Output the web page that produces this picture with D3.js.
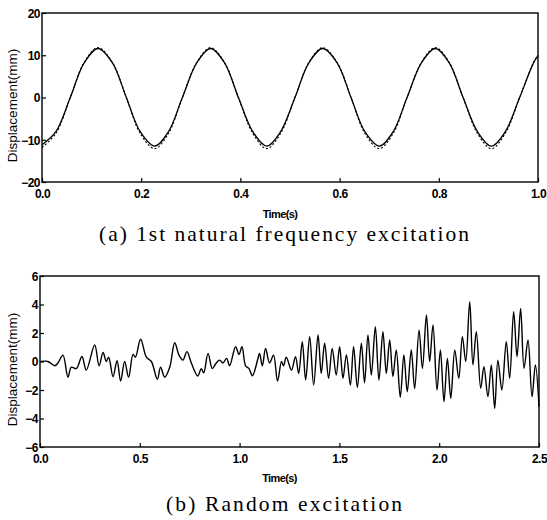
<!DOCTYPE html>
<html>
<head>
<meta charset="utf-8">
<script src="https://cdn.jsdelivr.net/npm/d3@7"></script>
<style>
  body { margin: 0; background: #fff; }
  svg { display: block; }
  .tick text { font-family: "Liberation Sans", Arial, sans-serif; font-size: 12px; font-weight: bold; letter-spacing: -0.5px; fill: #000; }
</style>
</head>
<body>
<svg id="chart" width="547" height="520"></svg>
<script>
// (a) 1st natural frequency excitation
const timeA = [0, 0.028, 0.057, 0.085, 0.113, 0.142, 0.170, 0.198, 0.227, 0.255, 0.283, 0.312,
  0.340, 0.368, 0.396, 0.425, 0.453, 0.481, 0.510, 0.538, 0.566, 0.595, 0.623, 0.651, 0.680,
  0.708, 0.736, 0.765, 0.793, 0.821, 0.849, 0.878, 0.906, 0.934, 0.963, 0.991, 1.0];
const measuredA = [-11.2, -8.1, 0, 8.2, 11.6, 8.2, 0, -8.1, -11.5, -8.1, 0, 8.2,
  11.6, 8.2, 0, -8.1, -11.5, -8.1, 0, 8.2, 11.6, 8.2, 0, -8.1, -11.5,
  -8.1, 0, 8.2, 11.6, 8.2, 0, -8.1, -11.5, -8.1, 0, 8.2, 9.9];
const simulatedA = [-11.8, -8.5, 0, 8.3, 11.8, 8.3, 0, -8.5, -12.1, -8.5, 0, 8.3,
  11.8, 8.3, 0, -8.5, -12.1, -8.5, 0, 8.3, 11.8, 8.3, 0, -8.5, -12.1,
  -8.5, 0, 8.3, 11.8, 8.3, 0, -8.5, -12.1, -8.5, 0, 8.3, 10.0];
const ticksXA = [0, 0.2, 0.4, 0.6, 0.8, 1.0];
const ticksYA = [-20, -10, 0, 10, 20];

// (b) Random excitation
const timeB = [0.003, 0.04, 0.074, 0.09, 0.115, 0.14, 0.157, 0.182, 0.21, 0.232, 0.274, 0.296,
  0.316, 0.332, 0.344, 0.366, 0.386, 0.404, 0.424, 0.444, 0.466, 0.478, 0.504, 0.533, 0.558,
  0.588, 0.604, 0.625, 0.65, 0.675, 0.696, 0.716, 0.736, 0.758, 0.79, 0.808, 0.82, 0.842,
  0.863, 0.883, 0.90, 0.917, 0.935, 0.95, 0.98, 0.997, 1.012, 1.03, 1.047, 1.064, 1.09,
  1.10, 1.114, 1.13, 1.15, 1.17, 1.19, 1.21, 1.22, 1.234, 1.26, 1.28, 1.296, 1.314, 1.331,
  1.351, 1.371, 1.393, 1.409, 1.426, 1.446, 1.464, 1.484, 1.501, 1.518, 1.535, 1.555, 1.571,
  1.59, 1.61, 1.626, 1.643, 1.66, 1.68, 1.698, 1.718, 1.735, 1.752, 1.768, 1.785, 1.805,
  1.823, 1.84, 1.86, 1.877, 1.899, 1.916, 1.936, 1.952, 1.969, 1.989, 2.006, 2.024, 2.041,
  2.058, 2.078, 2.098, 2.116, 2.133, 2.153, 2.169, 2.186, 2.208, 2.224, 2.244, 2.261, 2.278,
  2.294, 2.314, 2.336, 2.353, 2.373, 2.39, 2.408, 2.425, 2.445, 2.465, 2.482, 2.5];
const measuredB = [0.0, 0.0, -0.3, -0.1, 0.45, -1.1, -0.4, -0.5, 0.35, -0.6, 1.16, -0.3,
  0.64, 0.0, 0.3, -1.07, 0.05, -1.37, 0.0, -1.1, 0.5, 0.3, 1.56, 0.3, 0.0,
  -1.25, -0.4, -1.1, -0.4, 1.32, 0.46, 0.1, 0.69, -0.1, -1.02, -0.5, -0.8, 0.57,
  -0.5, -0.1, 0.1, -0.1, 0.22, -0.3, 1.04, 0.5, 1.04, -0.3, -0.5, -1.0, 0.1,
  0.57, -0.3, 0.92, -0.1, 0.45, -1.37, 0.0, -0.3, 0.3, -0.6, 0.34, -0.83, 1.39, -1.3,
  1.74, -1.65, 1.86, -0.83, 1.28, -1.18, 0.92, -0.95, 1.04, -1.18, 0.46, -1.65, 1.04,
  -1.81, 1.28, -1.5, 1.86, -0.95, 2.44, -1.3, 2.09, -0.83, 1.51, -1.06, 0.81, -2.51,
  0.46, -2.12, 0.81, -1.9, 2.2, -0.48, 3.26, 0.0, 2.56, -2.0, 0.81, -2.82, 0.22,
  -2.58, 0.81, -1.18, 1.74, 0.0, 4.2, -0.24, 2.09, -1.88, -0.36, -2.47, -0.24, -3.29,
  0.1, -2.0, 1.39, -1.18, 3.5, 0.34, 3.73, -0.48, 1.51, -2.47, -0.24, -3.17];
const ticksXB = [0, 0.5, 1.0, 1.5, 2.0, 2.5];
const ticksYB = [-6, -4, -2, 0, 2, 4, 6];

const svg = d3.select("#chart");

function drawPanel(opts) {
  const {left, right, top, bottom, xMax, yMax, xTicks, yTicks, series, xLabelY, yLabelX, caption, captionY, captionLen} = opts;

  const x = d3.scaleLinear().domain([0, xMax]).range([left, right]);
  const y = d3.scaleLinear().domain([-yMax, yMax]).range([bottom, top]);

  const g = svg.append("g");

  // frame
  g.append("rect")
    .attr("x", left).attr("y", top)
    .attr("width", right - left).attr("height", bottom - top)
    .attr("fill", "none").attr("stroke", "#000").attr("stroke-width", 1.4);

  const xAxis = g.append("g")
    .attr("transform", `translate(0,${bottom})`)
    .call(d3.axisBottom(x).tickValues(xTicks).tickFormat(d3.format(".1f")).tickSizeInner(-4).tickSizeOuter(0).tickPadding(7));
  const yAxis = g.append("g")
    .attr("transform", `translate(${left},0)`)
    .call(d3.axisLeft(y).tickValues(yTicks).tickFormat(d3.format("d")).tickSizeInner(-4).tickSizeOuter(0).tickPadding(2));
  [xAxis, yAxis].forEach(a => {
    a.select(".domain").remove();
    a.selectAll(".tick line").attr("stroke", "#000").attr("stroke-width", 1.2);
  });
  yAxis.selectAll(".tick text").attr("dy", "0.36em");

  const line = d3.line()
    .x(d => x(d[0]))
    .y(d => y(d[1]))
    .curve(d3.curveCatmullRom.alpha(0.5));

  series.forEach(s => {
    g.append("path")
      .datum(s.t.map((t, i) => [t, s.v[i]]))
      .attr("fill", "none")
      .attr("stroke", "#000")
      .attr("stroke-width", s.width)
      .attr("stroke-dasharray", s.dash || null)
      .attr("d", line);
  });

  g.append("text")
    .attr("x", (left + right) / 2 - 10)
    .attr("y", xLabelY)
    .attr("text-anchor", "middle")
    .attr("font-family", "'Liberation Sans', Arial, sans-serif")
    .attr("font-size", 11)
    .attr("font-weight", "bold")
    .attr("letter-spacing", -0.6)
    .text("Time(s)");

  g.append("text")
    .attr("transform", `translate(${yLabelX},${(top + bottom) / 2 + 8}) rotate(-90)`)
    .attr("text-anchor", "middle")
    .attr("font-family", "'Liberation Sans', Arial, sans-serif")
    .attr("font-size", 13.5)
    .text("Displacement(mm)");

  g.append("text")
    .attr("x", 284)
    .attr("y", captionY)
    .attr("text-anchor", "middle")
    .attr("font-family", "'Liberation Serif', 'DejaVu Serif', serif")
    .attr("font-size", 21.5)
    .attr("textLength", captionLen)
    .attr("lengthAdjust", "spacing")
    .text(caption);
}

drawPanel({
  left: 42, right: 538, top: 13, bottom: 182,
  xMax: 1.0, yMax: 20, xTicks: ticksXA, yTicks: ticksYA,
  series: [
    {t: timeA, v: simulatedA, width: 1.1, dash: "2,2"},
    {t: timeA, v: measuredA, width: 1.3}
  ],
  xLabelY: 218, yLabelX: 17,
  caption: "(a)  1st natural frequency excitation", captionY: 241, captionLen: 370
});

drawPanel({
  left: 40, right: 539, top: 276, bottom: 447,
  xMax: 2.5, yMax: 6, xTicks: ticksXB, yTicks: ticksYB,
  series: [
    {t: timeB, v: measuredB, width: 1.4}
  ],
  xLabelY: 482, yLabelX: 17,
  caption: "(b)  Random excitation", captionY: 511, captionLen: 236
});
</script>
</body>
</html>
